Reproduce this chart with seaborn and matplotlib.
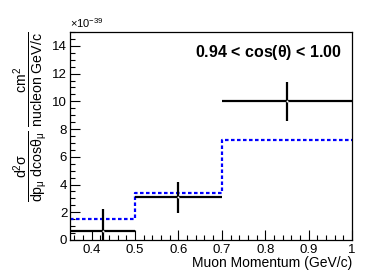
import numpy as np
import seaborn as sns
import matplotlib.pyplot as plt
from matplotlib.ticker import MultipleLocator

# bin edges (GeV/c) and values in units of 1e-39 cm^2/nucleon/GeV/c
bin_edges = [0.35, 0.5, 0.7, 1.0]
data_values = [0.67, 3.07, 10.0]
data_errors = [1.6, 1.1, 1.4]
data_centers = [0.425, 0.6, 0.85]
mc_values = [1.48, 3.36, 7.2]

sns.set_style("ticks")
plt.rcParams["font.family"] = ["Liberation Sans", "DejaVu Sans"]
plt.rcParams["mathtext.fontset"] = "custom"
plt.rcParams["mathtext.rm"] = "Liberation Sans"
plt.rcParams["mathtext.it"] = "Liberation Sans"
plt.rcParams["mathtext.bf"] = "Liberation Sans:bold"
for key in ["text.color", "axes.labelcolor", "xtick.color", "ytick.color"]:
    plt.rcParams[key] = "black"

fig = plt.figure(figsize=(3.87, 2.73), dpi=100)
ax = fig.add_axes([70 / 387, 1 - 240 / 273, 282 / 387, 208 / 273])

# MC prediction as step histogram
mc_x = bin_edges
mc_y = mc_values + [mc_values[-1]]
sns.lineplot(x=mc_x, y=mc_y, drawstyle="steps-post", color="#0000ff",
             linestyle=(0, (1.6, 1.1)), linewidth=1.6, ax=ax, estimator=None,
             sort=False)

# data with horizontal bin widths and vertical errors
xerr = [[c - lo for c, lo in zip(data_centers, bin_edges[:-1])],
        [hi - c for c, hi in zip(data_centers, bin_edges[1:])]]
ax.errorbar(data_centers, data_values, xerr=xerr, yerr=data_errors,
            fmt="none", ecolor="black", elinewidth=1.6, capsize=0)
sns.scatterplot(x=data_centers, y=data_values, color="white", s=2,
                linewidth=0, ax=ax, zorder=5)

ax.set_xlim(0.35, 1.0)
ax.set_ylim(0, 15)
ax.xaxis.set_minor_locator(MultipleLocator(0.02))
ax.yaxis.set_major_locator(MultipleLocator(2))
ax.yaxis.set_minor_locator(MultipleLocator(0.5))
ax.set_xticks([0.4, 0.5, 0.6, 0.7, 0.8, 0.9, 1.0])
ax.set_xticklabels(["0.4", "0.5", "0.6", "0.7", "0.8", "0.9", "1"])
ax.tick_params(which="both", direction="in", top=False, right=False,
               labelsize=9.5, width=0.8, color="black")
ax.tick_params(which="major", length=7)
ax.tick_params(which="minor", length=3.5)
ax.tick_params(axis="x", pad=3)
ax.tick_params(axis="y", pad=2)
for s in ax.spines.values():
    s.set_visible(True)
    s.set_linewidth(0.9)
    s.set_color("black")

ax.set_xlabel("Muon Momentum (GeV/c)", fontsize=10, loc="right", labelpad=0)
ax.set_ylabel(r"$\dfrac{\mathrm{d^{2}\sigma}}{\mathrm{dp_{\mu}\ dcos\theta_{\mu}}}\ "
              r"\dfrac{\mathrm{cm^{2}}}{\mathrm{nucleon\ GeV/c}}$",
              fontsize=10.2, loc="top", labelpad=2)

ax.text(0.0, 1.012, r"$\times$10$^{-39}$", transform=ax.transAxes,
        fontsize=8, ha="left", va="bottom")
ax.text(0.965, 0.9, r"0.94 < cos($\mathbf{\theta}$) < 1.00",
        transform=ax.transAxes, fontsize=11.5, fontweight="bold",
        ha="right", va="center")

fig.savefig("out.png", dpi=100)
